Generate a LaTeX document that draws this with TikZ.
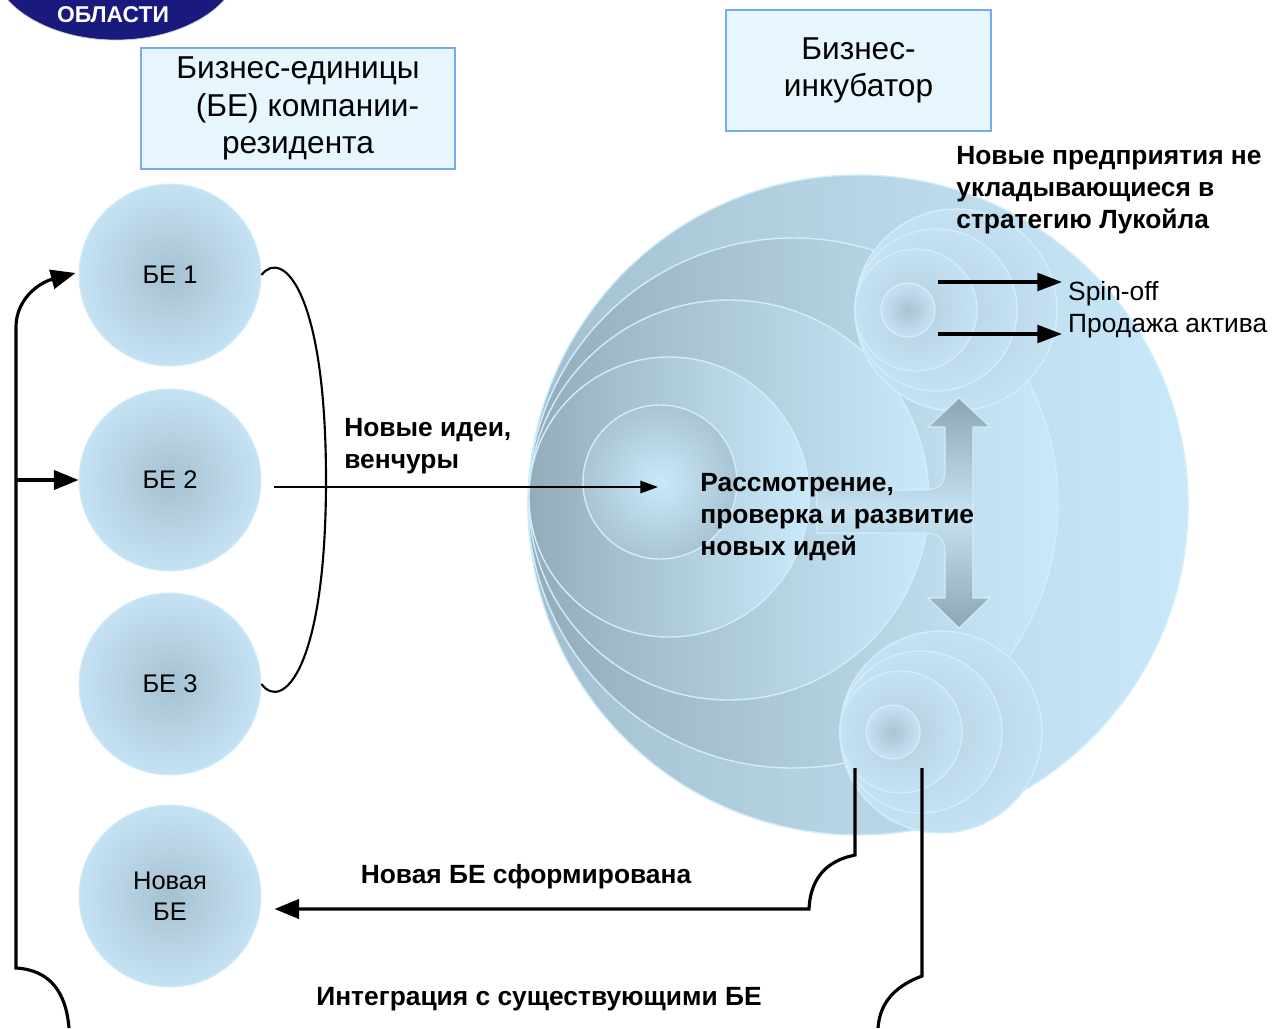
\documentclass[tikz,border=0pt]{standalone}
\usepackage{fontspec}
\setmainfont{Liberation Sans}
\usetikzlibrary{arrows.meta}

\definecolor{navyband}{HTML}{1A1A7E}
\definecolor{boxfill}{HTML}{E7F5FD}
\definecolor{boxline}{HTML}{78AAF0}
\definecolor{glowdark}{HTML}{93ACBA}
\definecolor{glowlight}{HTML}{C9E9FA}
\definecolor{bigleft}{HTML}{A4C0D0}
\definecolor{rimline}{HTML}{D3ECFA}
\definecolor{beinner}{HTML}{A6C1D1}
\definecolor{beouter}{HTML}{C5E2F4}
\definecolor{orbinner}{HTML}{B2CDDD}
\definecolor{coreinner}{HTML}{A9C4D3}
\definecolor{arrowgray}{HTML}{8EA5B2}
\definecolor{arrowpale}{HTML}{C6E3F3}

\begin{document}
\begin{tikzpicture}[x=0.02cm,y=-0.02cm,
  titlebox/.style={draw=boxline,line width=1.4pt,fill=boxfill,align=center,
    font=\fontsize{18}{21.5}\selectfont},
  becircle/.style={circle,minimum size=3.64cm,inner sep=0pt,inner color=beinner,
    outer color=beouter,draw=rimline,line width=0.6pt,align=center,
    font=\fontsize{14.5}{17.5}\selectfont},
  boldnote/.style={font=\fontsize{15}{18.2}\selectfont\bfseries,align=left,inner sep=0pt},
  plainnote/.style={font=\fontsize{15}{18.2}\selectfont},
  ring/.style={draw=rimline,line width=0.8pt,left color=glowdark,right color=glowlight},
  orb/.style={draw=rimline,line width=0.8pt,inner color=#1,outer color=beouter},
  orb/.default=orbinner,
  fatarrow/.style={line width=1.8pt,-{Triangle[length=14pt,width=11pt]}},
  fatline/.style={line width=1.8pt},
  spinarrow/.style={line width=2.1pt,-{Triangle[length=14pt,width=10pt]}},
  thinarrow/.style={line width=1.1pt,-{Triangle[length=10pt,width=7pt]}},
]
\useasboundingbox (0,0) rectangle (1274,1028);

% region banner, cut by the page edge
\begin{scope}
  \clip (0,0) rectangle (1274,1028);
  \fill[navyband,draw=gray!40] (116,-40) ellipse [x radius=125, y radius=80];
\end{scope}
\node[text=white,font=\fontsize{13}{15}\selectfont\bfseries] (oblasti) at (113,15) {ОБЛАСТИ};

% headings
\node[titlebox,minimum width=6.28cm,minimum height=2.42cm] (unitsbox) at (298,108.5)
  {Бизнес-единицы\\\hspace*{0.6em}(БЕ) компании-\\резидента};
\node[titlebox,minimum width=5.3cm,minimum height=2.42cm] (incubator) at (858.5,70.5)
  {Бизнес-\\инкубатор};

% business units
\node[becircle] (be1) at (170,275) {БЕ 1};
\node[becircle] (be2) at (170,480) {БЕ 2};
\node[becircle] (be3) at (170,684) {БЕ 3};
\node[becircle] (newbe) at (170,896) {Новая\\БЕ};

% incubator: nested circles
\path[ring,left color=bigleft] (858,505) circle [radius=330];
\path[ring] (793,503) circle [radius=265];
\path[ring] (729,500) circle [radius=200];
\path[ring] (669,497) circle [radius=140];
\path[draw=rimline,line width=0.8pt,inner color=glowlight,outer color=coreinner]
  (660,482) circle [radius=77];
\coordinate (core) at (658,487);

% exit cluster (top) and unit cluster (bottom)
\foreach \cx/\r in {956/101,936/81,916/61}
  \path[orb] (\cx,310) circle [radius=\r];
\path[orb=coreinner] (908,310) circle [radius=27];
\foreach \cx/\r in {941/101,921/81,901/61}
  \path[orb] (\cx,732) circle [radius=\r];
\path[orb=coreinner] (893,732) circle [radius=27];

% two-way arrow
\shade[top color=arrowgray,bottom color=arrowgray,middle color=arrowpale,
  draw=rimline,line width=0.6pt]
  (959,398) -- (990,427) -- (973,427) -- (973,598) -- (990,598) -- (959,628)
  -- (928,598) -- (945,598) -- (945,553) .. controls (945,540) and (940,533) .. (925,533)
  -- (817,533) -- (817,490) -- (925,490) .. controls (940,490) and (945,483) .. (945,470)
  -- (945,427) -- (928,427) -- cycle;

% texts
\node[boldnote,anchor=north west] (review) at (700,473)
  {Рассмотрение,\\проверка и развитие\\новых идей};
\node[boldnote,anchor=north west] (notfit) at (956,146)
  {Новые предприятия не\\укладывающиеся в\\стратегию Лукойла};
\node[boldnote,anchor=north west] (ideas) at (344,418) {Новые идеи,\\венчуры};
\node[plainnote,anchor=base west] (spin) at (1062,300) {Spin-off};
\node[plainnote,anchor=base west] (sale) at (1062,332) {Продажа актива};
\node[boldnote,anchor=base] (formed) at (526,883) {Новая БЕ сформирована};
\node[boldnote,anchor=base] (integr) at (539,1005) {Интеграция с существующими БЕ};

% connectors
\coordinate (exitA) at (938,282);
\coordinate (exitB) at (938,334);
\draw[spinarrow] (exitA) -- (exitA -| spin.west);
\draw[spinarrow] (exitB) -- (exitB -| sale.west);

\draw[line width=1.2pt] (be1.east) .. controls (282,248) and (326,290) .. (326,480)
  .. controls (326,670) and (282,712) .. (be3.east);
\draw[thinarrow] ([shift={(12,7)}]be2.east) -- (core);

\coordinate (leftfoot) at (69,1028);
\coordinate (split) at (16,480);
\draw[fatarrow] (leftfoot) .. controls (66,992) and (50,970) .. (16,968) -- (16,327)
  .. controls (16,300) and (38,283) .. ([shift={(-3,-2)}]be1.west);
\draw[fatarrow] (split) -- (be2.west);

\coordinate (launch) at (855,768);
\draw[fatarrow] (launch) -- (855,855) -- (847,857) .. controls (818,866) and (810,888) .. (809,909)
  -- ([shift={(13,13)}]newbe.east);

\coordinate (merge) at (922,768);
\coordinate (rightfoot) at (878,1028);
\draw[fatline] (merge) -- (922,976) .. controls (898,985) and (880,1000) .. (rightfoot);
\end{tikzpicture}
\end{document}
